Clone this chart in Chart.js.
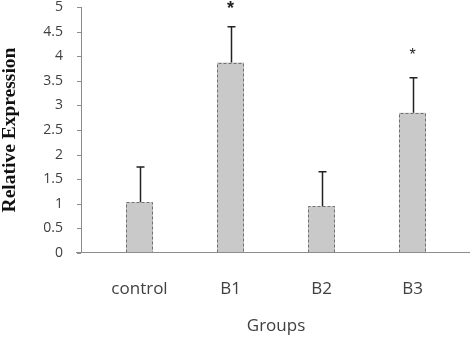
<!DOCTYPE html>
<html>
<head>
  <meta charset="UTF-8">
  <title>Relative Expression by Group</title>
  <script src="https://cdn.jsdelivr.net/npm/chart.js"></script>
  <style>
    body { margin: 0; background: #fff; }
    #wrap { width: 470px; height: 339px; }
  </style>
</head>
<body>
  <div id="wrap"><canvas id="chart"></canvas></div>

  <script>
    const groups = ["control", "B1", "B2", "B3"];
    const expression = [1.03, 3.87, 0.95, 2.85];
    const errors = [0.72, 0.73, 0.70, 0.71];
    const marks = ["", "*", "", "*"];
    const yTicks = [0, 0.5, 1, 1.5, 2, 2.5, 3, 3.5, 4, 4.5, 5];

    // axis lines, tick marks, dashed bar outlines, error bars and stars
    const extras = {
      id: "extras",
      afterDatasetsDraw(chart) {
        const ctx = chart.ctx;
        const y = chart.scales.y;
        const axisX = 81;
        const zeroY = Math.round(y.getPixelForValue(0)) - 0.5;
        const bars = chart.getDatasetMeta(0).data;
        const starGap = [0, 22, 0, 26];

        ctx.save();
        // bar outlines
        ctx.strokeStyle = "#707070";
        ctx.lineWidth = 1;
        ctx.setLineDash([3, 2]);
        bars.forEach(b => {
          const x0 = Math.round(b.x - b.width / 2) + 0.5;
          const x1 = Math.round(b.x + b.width / 2) - 0.5;
          const top = Math.round(b.y) + 0.5;
          ctx.beginPath();
          ctx.moveTo(x0, zeroY);
          ctx.lineTo(x0, top);
          ctx.lineTo(x1, top);
          ctx.lineTo(x1, zeroY);
          ctx.stroke();
        });
        ctx.setLineDash([]);

        // error bars
        ctx.strokeStyle = "#222";
        ctx.lineWidth = 1.5;
        bars.forEach((b, i) => {
          const x = Math.round(b.x) + 0.5;
          const yt = y.getPixelForValue(expression[i] + errors[i]);
          ctx.beginPath();
          ctx.moveTo(x, b.y);
          ctx.lineTo(x, yt);
          ctx.moveTo(x - 4, yt);
          ctx.lineTo(x + 4, yt);
          ctx.stroke();
        });

        // significance stars
        ctx.fillStyle = "#222";
        ctx.textAlign = "center";
        ctx.textBaseline = "middle";
        bars.forEach((b, i) => {
          if (!marks[i]) return;
          const yt = y.getPixelForValue(expression[i] + errors[i]);
          ctx.font = i === 1 ? "bold 18px 'Liberation Sans'" : "16px 'Liberation Sans'";
          ctx.fillText(marks[i], b.x, yt - starGap[i] + 4);
        });

        // axes
        ctx.strokeStyle = "#8c8c8c";
        ctx.lineWidth = 1;
        ctx.beginPath();
        ctx.moveTo(axisX + 0.5, y.getPixelForValue(5));
        ctx.lineTo(axisX + 0.5, zeroY);
        ctx.moveTo(76, zeroY);
        ctx.lineTo(470, zeroY);
        yTicks.forEach(t => {
          const py = Math.round(y.getPixelForValue(t)) + 0.5;
          ctx.moveTo(77, py);
          ctx.lineTo(axisX, py);
        });
        ctx.stroke();
        ctx.restore();
      }
    };

    new Chart(document.getElementById("chart"), {
      type: "bar",
      data: {
        labels: groups,
        datasets: [{
          data: expression,
          backgroundColor: "#c9c9c9",
          borderWidth: 0,
          categoryPercentage: 1,
          barPercentage: 0.297
        }]
      },
      options: {
        responsive: true,
        maintainAspectRatio: false,
        animation: false,
        layout: { padding: { top: 7, right: 12, bottom: 0, left: 0 } },
        plugins: { legend: { display: false }, tooltip: { enabled: false } },
        scales: {
          x: {
            afterFit(scale) {
              scale.height = 86;
              scale.paddingLeft = 0;
              scale.paddingRight = 0;
            },
            grid: { display: false, drawTicks: false },
            border: { display: false },
            ticks: { padding: 26, color: "#404040", font: { family: "Open Sans", size: 17 } },
            title: {
              display: true, text: "Groups", color: "#404040",
              font: { family: "Open Sans", size: 17 },
              padding: { top: 0, bottom: 3 }
            }
          },
          y: {
            min: 0, max: 5,
            afterFit(scale) {
              scale.width = 94;
              scale.paddingTop = 0;
              scale.paddingBottom = 0;
            },
            afterBuildTicks(scale) { scale.ticks = yTicks.map(v => ({ value: v })); },
            grid: { display: false, drawTicks: false },
            border: { display: false },
            ticks: {
              padding: 31, color: "#404040",
              font: { family: "Open Sans", size: 14 },
              callback: v => String(v)
            },
            title: {
              display: true, text: "Relative Expression", color: "#111",
              font: { family: "Liberation Serif", size: 19.5, weight: "bold", lineHeight: 1 },
              padding: { top: 0, bottom: 0 }
            }
          }
        }
      },
      plugins: [extras]
    });
  </script>
</body>
</html>
